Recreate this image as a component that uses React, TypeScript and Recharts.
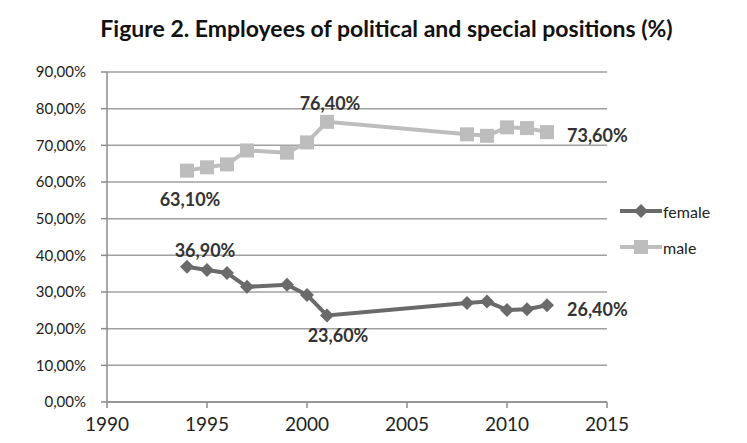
import React from 'react';
import { LineChart, Line, XAxis, YAxis, CartesianGrid, Legend } from 'recharts';

const years = [1994, 1995, 1996, 1997, 1999, 2000, 2001, 2008, 2009, 2010, 2011, 2012];
const female = [36.9, 36.0, 35.2, 31.4, 32.0, 29.2, 23.6, 27.0, 27.4, 25.1, 25.3, 26.4];
const male = [63.1, 64.0, 64.8, 68.6, 68.0, 70.8, 76.4, 73.0, 72.6, 74.9, 74.7, 73.6];
const xTicks = [1990, 1995, 2000, 2005, 2010, 2015];
const yTicks = [0, 10, 20, 30, 40, 50, 60, 70, 80, 90];

const FEMALE_COLOR = '#6a6a6a';
const MALE_COLOR = '#bdbdbd';
const FONT = 'Lato, "Open Sans", sans-serif';

const data = years.map((year, i) => ({ year, female: female[i], male: male[i] }));

const pct = (v: number) => `${v.toFixed(2).replace('.', ',')}%`;

// which points get a value label, and where it sits relative to the point
const femaleLabels: Record<number, { dx: number; dy: number; anchor: string }> = {
  0: { dx: 18, dy: -17, anchor: 'middle' },
  6: { dx: 11, dy: 20, anchor: 'middle' },
  11: { dx: 20, dy: 4, anchor: 'start' },
};
const maleLabels: Record<number, { dx: number; dy: number; anchor: string }> = {
  0: { dx: 3, dy: 28, anchor: 'middle' },
  6: { dx: 3, dy: -19, anchor: 'middle' },
  11: { dx: 20, dy: 3, anchor: 'start' },
};

const makeLabel = (spec: typeof femaleLabels) => (props: any) => {
  const { x, y, index, value } = props;
  const s = spec[index];
  if (!s) return null;
  return (
    <text
      key={`lbl-${index}`}
      x={x + s.dx}
      y={y + s.dy}
      textAnchor={s.anchor as any}
      dominantBaseline="central"
      fontFamily={FONT}
      fontWeight={700}
      fontSize={18}
      fill="#333"
    >
      {pct(value)}
    </text>
  );
};

const Diamond = (props: any) => {
  const { cx, cy, index } = props;
  if (cx == null || cy == null) return null;
  const r = 7;
  return (
    <path
      key={`d-${index}`}
      d={`M${cx},${cy - r}L${cx + r},${cy}L${cx},${cy + r}L${cx - r},${cy}Z`}
      fill={FEMALE_COLOR}
    />
  );
};

const Square = (props: any) => {
  const { cx, cy, index } = props;
  if (cx == null || cy == null) return null;
  const s = 14;
  return <rect key={`s-${index}`} x={cx - s / 2} y={cy - s / 2} width={s} height={s} fill={MALE_COLOR} />;
};

const LegendContent = () => (
  <div style={{ fontFamily: FONT, fontSize: 16, color: '#222' }}>
    {[
      { name: 'female', color: FEMALE_COLOR, shape: 'diamond' },
      { name: 'male', color: MALE_COLOR, shape: 'square' },
    ].map((item) => (
      <div key={item.name} style={{ display: 'flex', alignItems: 'center', height: 36 }}>
        <svg width={42} height={16}>
          <line x1={0} y1={8} x2={42} y2={8} stroke={item.color} strokeWidth={4} />
          {item.shape === 'diamond' ? (
            <path d="M21,1L28,8L21,15L14,8Z" fill={item.color} />
          ) : (
            <rect x={14} y={1} width={14} height={14} fill={item.color} />
          )}
        </svg>
        <span style={{ marginLeft: 1 }}>{item.name}</span>
      </div>
    ))}
  </div>
);

export default function App() {
  return (
    <div style={{ margin: -8, width: 747, height: 443, background: '#dce8e8', position: 'relative', overflow: 'hidden' }}>
      <div style={{ position: 'absolute', left: 7, top: 7, width: 733, height: 436, background: '#fff' }} />
      <div
        style={{
          position: 'absolute',
          left: 0,
          top: 14,
          width: 773,
          textAlign: 'center',
          fontFamily: FONT,
          fontWeight: 700,
          fontSize: 23,
          color: '#111',
        }}
      >
        Figure 2. Employees of political and special positions (%)
      </div>
      <div style={{ position: 'absolute', left: 0, top: 0 }}>
        <LineChart width={747} height={443} data={data} margin={{ top: 72, right: 30, bottom: 1, left: 17 }}>
          <CartesianGrid vertical={false} stroke="#a0a0a0" strokeWidth={1.5} />
          <XAxis
            dataKey="year"
            type="number"
            domain={[1990, 2015]}
            ticks={xTicks}
            height={40}
            stroke="#8c8c8c"
            strokeWidth={1.5}
            tickSize={6}
            tick={{ fontFamily: FONT, fontSize: 19, fill: '#222' }}
            tickMargin={10}
          />
          <YAxis
            type="number"
            domain={[0, 90]}
            ticks={yTicks}
            width={90}
            stroke="#8c8c8c"
            strokeWidth={1.5}
            tickSize={6}
            tickMargin={15}
            tickFormatter={pct}
            tick={{ fontFamily: FONT, fontSize: 15, fill: '#222' }}
          />
          <Legend
            layout="vertical"
            align="right"
            verticalAlign="top"
            content={<LegendContent />}
            wrapperStyle={{ position: 'absolute', left: 620, top: 193, width: 110 }}
          />
          <Line
            dataKey="female"
            name="female"
            stroke={FEMALE_COLOR}
            strokeWidth={4}
            dot={<Diamond />}
            label={makeLabel(femaleLabels)}
            isAnimationActive={false}
          />
          <Line
            dataKey="male"
            name="male"
            stroke={MALE_COLOR}
            strokeWidth={4}
            dot={<Square />}
            label={makeLabel(maleLabels)}
            isAnimationActive={false}
          />
        </LineChart>
      </div>
    </div>
  );
}
